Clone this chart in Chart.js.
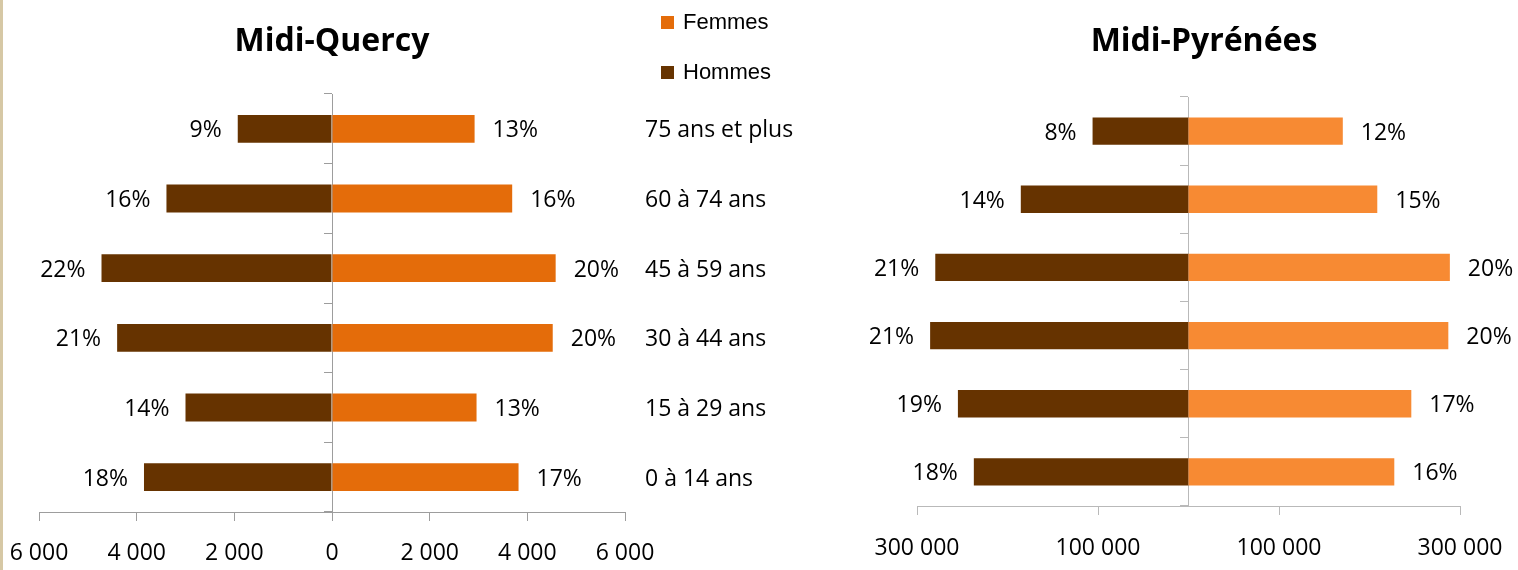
<!DOCTYPE html>
<html>
<head>
<meta charset="utf-8">
<script src="https://cdn.jsdelivr.net/npm/chart.js@4"></script>
<style>
  html, body { margin: 0; padding: 0; background: #fff; width: 1518px; height: 570px; overflow: hidden; }
  #strip { position: absolute; left: 0; top: 0; width: 3px; height: 570px; background: #d6c8a5; }
  .box { position: absolute; top: 0; height: 570px; }
  #boxMQ { left: 0; width: 830px; }
  #boxMP { left: 870px; width: 668px; }
  #legend { position: absolute; left: 661px; top: 0; font-family: "Liberation Sans", Arial, sans-serif; font-size: 22px; color: #000; }
  #legend .item { position: absolute; left: 0; display: flex; align-items: center; height: 26px; white-space: nowrap; }
  #legend .sw { width: 13px; height: 13px; margin-right: 9px; }
</style>
</head>
<body>
<div id="strip"></div>
<div class="box" id="boxMQ"><canvas id="chartMQ"></canvas></div>
<div class="box" id="boxMP"><canvas id="chartMP"></canvas></div>
<div id="legend"></div>
<script>
// Pyramide des ages - Midi-Quercy / Midi-Pyrenees
const categories = ['75 ans et plus', '60 à 74 ans', '45 à 59 ans', '30 à 44 ans', '15 à 29 ans', '0 à 14 ans'];
const seriesNames = ['Femmes', 'Hommes'];

// Midi-Quercy (effectifs)
const femmesMQ = [2920, 3690, 4580, 4520, 2960, 3820];
const hommesMQ = [1930, 3390, 4720, 4400, 3000, 3850];
const pctFemmesMQ = [13, 16, 20, 20, 13, 17];
const pctHommesMQ = [9, 16, 22, 21, 14, 18];
const ticksMQ = [-6000, -4000, -2000, 0, 2000, 4000, 6000];

// Midi-Pyrenees (effectifs)
const femmesMP = [170500, 208600, 288800, 287100, 246200, 227400];
const hommesMP = [106000, 185300, 279800, 285500, 254800, 237200];
const pctFemmesMP = [12, 15, 20, 20, 17, 16];
const pctHommesMP = [8, 14, 21, 21, 19, 18];
const ticksMP = [-300000, -100000, 100000, 300000];

const FONT = 'Open Sans';

function fmt(v) {
    return Math.abs(v).toString().replace(/\B(?=(\d{3})+(?!\d))/g, ' ');
}

// percentage labels next to each bar
const barLabels = {
    id: 'barLabels',
    afterDatasetsDraw(chart, args, opts) {
        const ctx = chart.ctx;
        ctx.save();
        ctx.font = '23px "' + FONT + '"';
        ctx.fillStyle = '#000';
        ctx.textBaseline = 'middle';
        chart.data.datasets.forEach((ds, i) => {
            chart.getDatasetMeta(i).data.forEach((bar, j) => {
                const neg = ds.data[j] < 0;
                ctx.textAlign = neg ? 'right' : 'left';
                ctx.fillText(opts.pct[i][j] + '%', bar.x + (neg ? -16 : 18), bar.y + 2);
            });
        });
        ctx.restore();
    }
};

function makeChart(id, cfg) {
    const grey = cfg.grey;
    const scales = {
        x: {
            min: cfg.ticks[0],
            max: cfg.ticks[cfg.ticks.length - 1],
            stacked: true,
            afterBuildTicks: s => { s.ticks = cfg.ticks.map(v => ({ value: v })); },
            afterFit: s => { s.height = cfg.xHeight; },
            grid: { drawOnChartArea: false, drawTicks: true, tickLength: 9, color: grey },
            border: { color: grey },
            ticks: {
                padding: 0, color: '#000', maxRotation: 0, autoSkip: false,
                font: { family: FONT, size: 23, lineHeight: cfg.tickLine },
                callback: v => fmt(v)
            }
        },
        y: {
            type: 'category',
            stacked: true,
            offset: true,
            position: { x: 0 },
            grid: { drawOnChartArea: false, drawTicks: true, tickLength: 8, offset: true, color: grey },
            border: { color: grey },
            ticks: { display: false }
        }
    };
    Object.assign(scales, cfg.extraScales);

    return new Chart(document.getElementById(id), {
        type: 'bar',
        data: {
            labels: categories,
            datasets: [
                { label: seriesNames[0], data: cfg.femmes, backgroundColor: cfg.colors[0], yAxisID: 'y' },
                { label: seriesNames[1], data: cfg.hommes.map(v => -v), backgroundColor: cfg.colors[1], yAxisID: 'y' }
            ]
        },
        options: {
            indexAxis: 'y',
            responsive: true,
            maintainAspectRatio: false,
            animation: false,
            barPercentage: 0.4,
            categoryPercentage: 1,
            layout: { padding: cfg.padding },
            scales: scales,
            plugins: {
                legend: { display: false },
                tooltip: { enabled: false },
                title: {
                    display: true,
                    text: cfg.title,
                    color: '#000',
                    fullSize: cfg.titleFull,
                    font: { family: FONT, size: 32, weight: 'bold' },
                    padding: { top: 23, bottom: cfg.titleBottom }
                },
                barLabels: { pct: cfg.pct }
            }
        },
        plugins: [barLabels]
    });
}

function build() {
    const chartMQ = makeChart('chartMQ', {
        title: 'Midi-Quercy',
        titleFull: false,
        titleBottom: 32.6,
        femmes: femmesMQ,
        hommes: hommesMQ,
        pct: [pctFemmesMQ, pctHommesMQ],
        ticks: ticksMQ,
        colors: ['#e46c0a', '#663300'],
        grey: '#9d9d9d',
        xHeight: 58,
        tickLine: '64px',
        padding: { left: 39 },
        extraScales: {
            y2: {
                type: 'category',
                position: 'right',
                offset: true,
                afterFit: s => { s.width = 205; },
                grid: { display: false, drawTicks: false },
                border: { display: false },
                ticks: { padding: 20, labelOffset: 2, color: '#000', font: { family: FONT, size: 23 } }
            }
        }
    });

    makeChart('chartMP', {
        title: 'Midi-Pyrénées',
        titleFull: true,
        titleBottom: 35.6,
        femmes: femmesMP,
        hommes: hommesMP,
        pct: [pctFemmesMP, pctHommesMP],
        ticks: ticksMP,
        colors: ['#f78a33', '#663300'],
        grey: '#b9b9b9',
        xHeight: 64,
        tickLine: '66px',
        padding: 0,
        extraScales: {
            yl: {
                type: 'category', position: 'left',
                afterFit: s => { s.width = 47; },
                grid: { display: false, drawTicks: false }, border: { display: false }, ticks: { display: false }
            },
            yr: {
                type: 'category', position: 'right',
                afterFit: s => { s.width = 78; },
                grid: { display: false, drawTicks: false }, border: { display: false }, ticks: { display: false }
            }
        }
    });

    // legend (Femmes / Hommes) from the first chart's datasets
    const legend = document.getElementById('legend');
    chartMQ.data.datasets.forEach((ds, i) => {
        const item = document.createElement('div');
        item.className = 'item';
        item.style.top = (9 + i * 50) + 'px';
        const sw = document.createElement('span');
        sw.className = 'sw';
        sw.style.background = ds.backgroundColor;
        item.appendChild(sw);
        item.appendChild(document.createTextNode(ds.label));
        legend.appendChild(item);
    });
}

Promise.all([
    document.fonts.load('23px "' + FONT + '"'),
    document.fonts.load('bold 32px "' + FONT + '"')
]).then(build, build);
</script>
</body>
</html>
